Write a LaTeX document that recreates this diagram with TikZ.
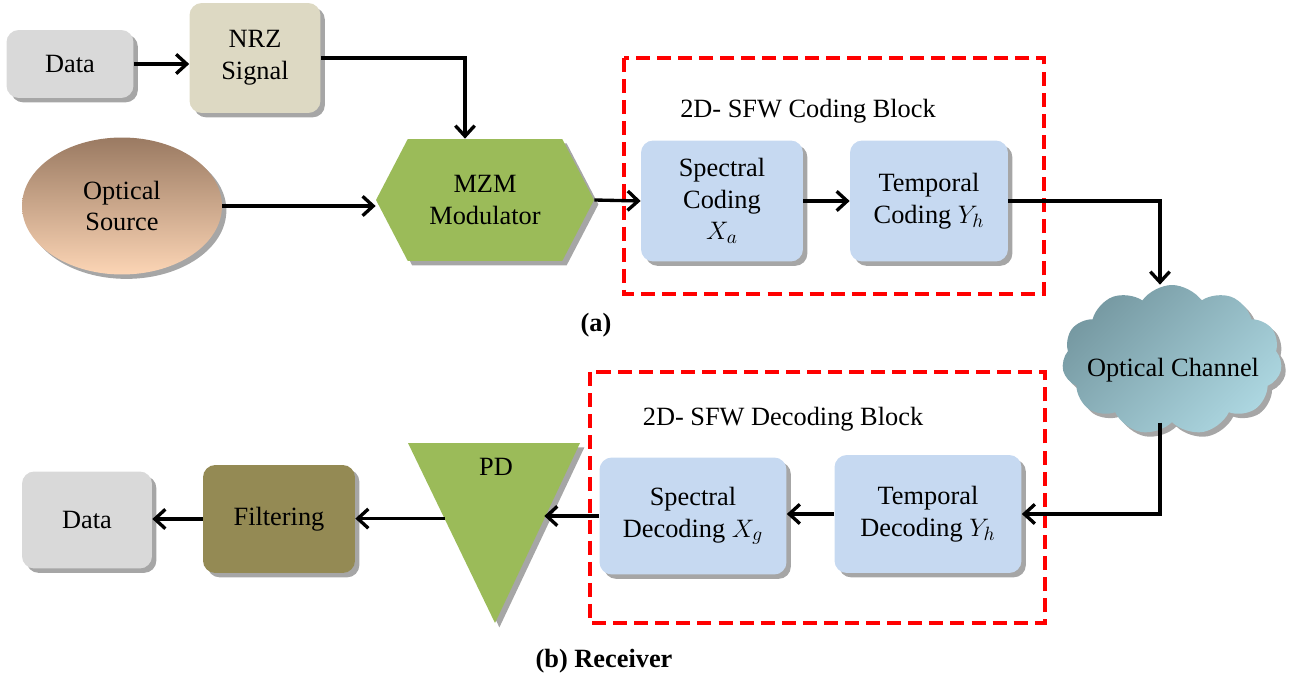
\documentclass[tikz,border=0pt]{standalone}
\usepackage{fontspec}
\setmainfont{Liberation Serif}
\usetikzlibrary{shapes.geometric, shapes.symbols, shadows, arrows.meta, calc}

\definecolor{datagray}{HTML}{D9D9D9}
\definecolor{nrzbeige}{HTML}{DDD9C3}
\definecolor{srctop}{HTML}{9A7A62}
\definecolor{srcbot}{HTML}{FCD5B5}
\definecolor{mzmgreen}{HTML}{9BBB59}
\definecolor{codblue}{HTML}{C6D9F1}
\definecolor{filtolive}{HTML}{948A54}
\definecolor{clouddark}{HTML}{7699A2}
\definecolor{cloudlight}{HTML}{ACD6E0}
\definecolor{shadowgray}{HTML}{A6A6A6}

\tikzset{
    txt/.style={font=\fontsize{15}{18}\selectfont, align=center},
    shade3d/.style={drop shadow={shadow xshift=2.5pt, shadow yshift=-2.5pt, fill=shadowgray, opacity=1}},
    block/.style={txt, rectangle, rounded corners=7pt, inner sep=2pt, shade3d},
    flow/.style={line width=1.9pt, -{Straight Barb[length=6pt, width=11pt, line width=1.9pt]}},
    codeframe/.style={red, dash pattern=on 8pt off 4pt, line width=2.2pt}
}

\begin{document}
\begin{tikzpicture}[x=0.02cm, y=-0.02cm]
    % Frame of the picture
    \useasboundingbox (0,0) rectangle (1306,682);

    % Transmitter
    \node[block, fill=datagray, minimum width=2.54cm, minimum height=1.36cm] (data) at (70,64) {Data};
    \node[block, fill=nrzbeige, minimum width=2.62cm, minimum height=2.2cm] (nrz) at (255,58) {NRZ\\Signal};
    \node[txt, ellipse, top color=srctop, bottom color=srcbot, shade3d,
          minimum width=4cm, minimum height=2.74cm] (source) at (122,206) {Optical\\Source};
    \node[txt, signal, signal to=west and east, signal pointer angle=125, fill=mzmgreen, shade3d,
          minimum width=4.36cm, minimum height=2.44cm] (mzm) at (485,200) {MZM\\Modulator};

    % Coding block
    \draw[codeframe] (624,58) rectangle (1044,294);
    \node[txt] (codtitle) at (808,111) {2D- SFW Coding Block};
    \node[block, fill=codblue, minimum width=3.24cm, minimum height=2.42cm] (spcod) at (722,201) {Spectral\\Coding\\$X_a$};
    \node[block, fill=codblue, minimum width=3.16cm, minimum height=2.42cm] (tecod) at (929,201) {Temporal\\Coding $Y_h$};
    \node[font=\fontsize{15}{18}\selectfont\bfseries] (cap-a) at (596,325) {(a)};

    % Channel
    \node[cloud, cloud puffs=11, cloud puff arc=110, aspect=1.5, shade3d,
          left color=clouddark, right color=cloudlight, shading angle=45,
          minimum width=4.4cm, minimum height=3cm] (cloud) at (1172,360) {};
    \node[txt] (chantxt) at (1173,370) {Optical Channel};

    % Decoding block
    \draw[codeframe] (590,372) rectangle (1045,623);
    \node[txt] (dectitle) at (783,419) {2D- SFW Decoding Block};
    \node[block, fill=codblue, minimum width=3.74cm, minimum height=2.36cm] (tedec) at (928,514) {Temporal\\Decoding $Y_h$};
    \node[block, fill=codblue, minimum width=3.74cm, minimum height=2.34cm] (spdec) at (693,516) {Spectral\\Decoding $X_g$};

    % Receiver
    \coordinate (pdtl) at (408,443);
    \coordinate (pdtr) at (580,443);
    \coordinate (pdbot) at (495,623);
    \path[fill=mzmgreen, shade3d] (pdtl) -- (pdtr) -- (pdbot) -- cycle;
    \node[txt] (pd) at (496,467) {PD};
    \coordinate (pdin) at ($(pdtr)!0.42!(pdbot)$);
    \coordinate (pdout) at ($(pdtl)!0.42!(pdbot)$);
    \node[block, fill=filtolive, minimum width=3.04cm, minimum height=2.16cm] (filt) at (279,519) {Filtering};
    \node[block, fill=datagray, minimum width=2.6cm, minimum height=1.94cm] (dataout) at (87,520) {Data};
    \node[font=\fontsize{15}{18}\selectfont\bfseries] (cap-b) at (604,661) {(b) Receiver};

    % Connections
    \draw[flow] (data.east) -- (data.east -| nrz.west);
    \draw[flow] (nrz.east) -| ([xshift=-0.4cm]mzm.north);
    \draw[flow] (source.east) -- (source.east -| mzm.west);
    \draw[flow] (mzm.east) -- (spcod.west);
    \draw[flow] (spcod.east) -- (tecod.west);
    \draw[flow] (tecod.east) -| ([xshift=-0.24cm]cloud.north);
    \draw[flow] ([xshift=-0.24cm]cloud.south) |- (tedec.east);
    \draw[flow] (tedec.west) -- (tedec.west -| spdec.east);
    \draw[flow] (spdec.west) -- (spdec.west -| pdin);
    \draw[flow] (pdout) -- (pdout -| filt.east);
    \draw[flow] (filt.west) -- (filt.west -| dataout.east);
\end{tikzpicture}
\end{document}
